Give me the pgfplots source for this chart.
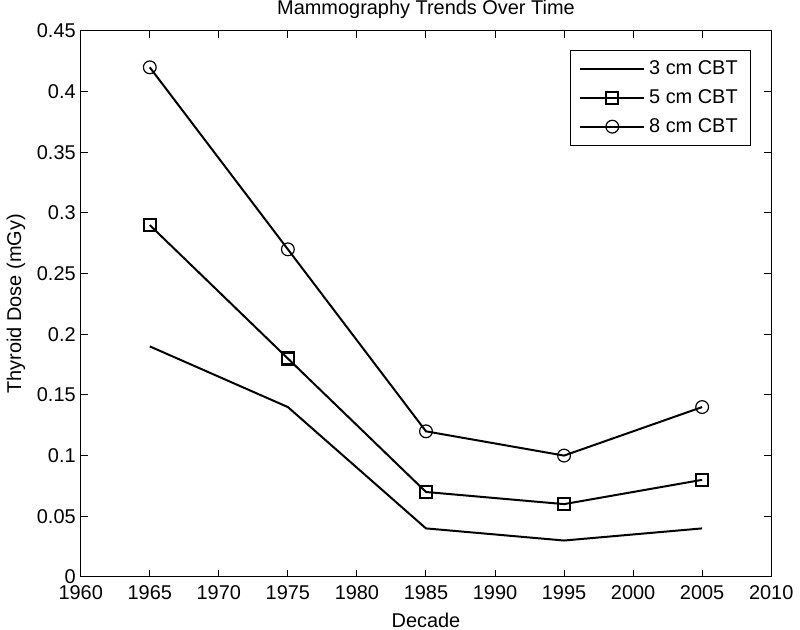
\documentclass[border=0pt]{standalone}
\usepackage{fontspec}
\setmainfont{Liberation Sans}
\usepackage{pgfplots}
\pgfplotsset{compat=1.18}
\begin{document}
\begin{tikzpicture}
\begin{axis}[
  scale only axis,
  width=346.5pt, height=274pt,
  xmin=1960, xmax=2010, ymin=0, ymax=0.45,
  xtick={1960,1965,...,2010},
  ytick={0,0.05,...,0.45},
  yticklabels={0,0.05,0.1,0.15,0.2,0.25,0.3,0.35,0.4,0.45},
  /pgf/number format/assume math mode=true,
  xticklabel style={/pgf/number format/1000 sep={}, yshift=-1pt},
  tick align=inside,
  major tick length=3.5pt,
  axis line style={line width=0.5pt},
  every tick/.style={black, line width=0.5pt},
  tick label style={font=\fontsize{10}{11}\selectfont},
  yticklabel style={xshift=1pt},
  label style={font=\fontsize{10}{11}\selectfont},
  title style={font=\fontsize{10}{11}\selectfont, inner sep=0pt, yshift=0pt},
  title={Mammography Trends Over Time},
  xlabel={Decade},
  ylabel={Thyroid Dose (mGy)},
  xlabel style={yshift=-2pt, inner sep=1pt},
  ylabel style={yshift=-1pt},
  legend style={at={(0.971,0.965)}, anchor=north east, draw=black, line width=0.5pt,
    font=\fontsize{10}{11}\selectfont, row sep=2pt, inner ysep=3pt, inner xsep=4.5pt},
  legend cell align=left,
  legend image code/.code={
    \draw[#1] (0pt,0pt) -- (32pt,0pt);
    \draw[#1, only marks] plot coordinates {(16pt,0pt)};
  },
]
\addplot[black, line width=1pt, mark=none] coordinates {
(1965,0.19) (1975,0.14) (1985,0.04) (1995,0.03) (2005,0.04)};
\addlegendentry{3 cm CBT}
\addplot[black, line width=1pt, mark=square, mark size=3pt, mark options={line width=1.1pt, fill=white}] coordinates {
(1965,0.29) (1975,0.18) (1985,0.07) (1995,0.06) (2005,0.08)};
\addlegendentry{5 cm CBT}
\addplot[black, line width=1pt, mark=o, mark size=3.2pt, mark options={line width=0.6pt, fill=white}] coordinates {
(1965,0.42) (1975,0.27) (1985,0.12) (1995,0.10) (2005,0.14)};
\addlegendentry{8 cm CBT}
\end{axis}
\end{tikzpicture}
\end{document}
